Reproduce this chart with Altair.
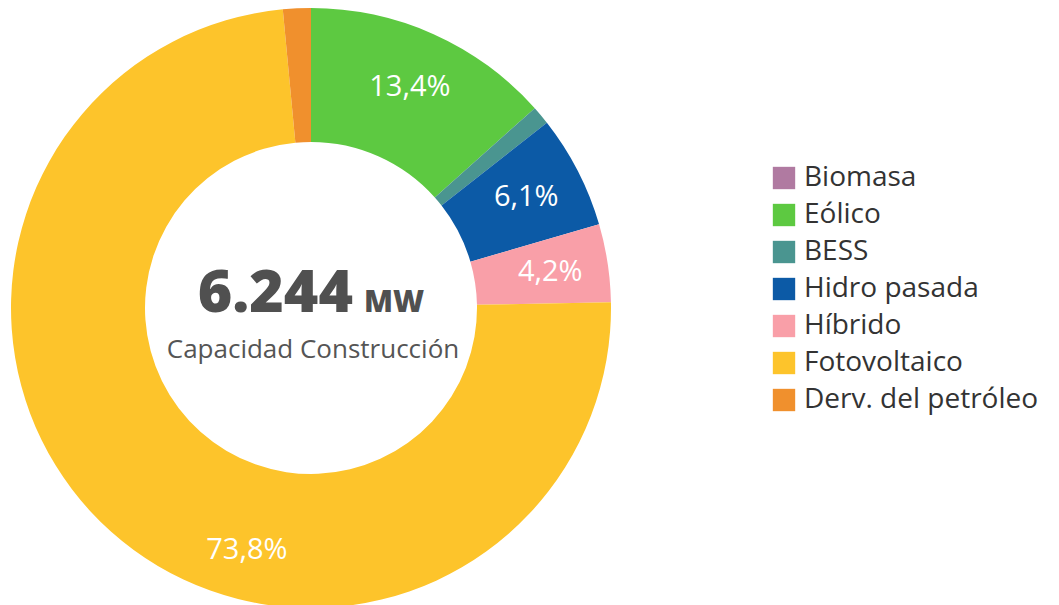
import altair as alt
import pandas as pd

categories = ["Biomasa", "Eólico", "BESS", "Hidro pasada", "Híbrido", "Fotovoltaico", "Derv. del petróleo"]
shares = [0.0, 13.4, 1.0, 6.1, 4.2, 73.8, 1.5]
labels = ["", "13,4%", "", "6,1%", "4,2%", "", ""]
big_label = ["", "", "", "", "", "73,8%", ""]
colors = ["#B07AA1", "#5DC941", "#4A9590", "#0C5AA6", "#F99FA8", "#FDC42B", "#F0902D"]
total_value = "6.244"
total_unit = "MW"
subtitle = "Capacidad Construcción"

df = pd.DataFrame({
    "cat": categories,
    "share": shares,
    "label": labels,
    "big": big_label,
    "idx": list(range(len(categories))),
})

FONT = "Open Sans"
CX, CY = 303, 300

base = alt.Chart(df).encode(
    theta=alt.Theta("share:Q", stack=True),
    order=alt.Order("idx:Q"),
    x=alt.value(CX),
    y=alt.value(CY),
)

arcs = base.mark_arc(innerRadius=166, outerRadius=300, stroke=None).encode(
    color=alt.Color(
        "cat:N",
        scale=alt.Scale(domain=categories, range=colors),
        sort=categories,
        legend=alt.Legend(
            title=None,
            orient="none",
            legendX=762,
            legendY=156,
            symbolType="square",
            symbolSize=500,
            symbolStrokeWidth=0,
            symbolOpacity=1,
            labelFont=FONT,
            labelFontSize=28,
            labelColor="#333333",
            labelOffset=6,
            rowPadding=9,
            labelLimit=400,
        ),
    )
)

pct = base.mark_text(radius=242, font=FONT, fontSize=29, color="white").encode(
    text="label:N"
)
pct_big = base.mark_text(radius=242, font=FONT, fontSize=29, color="white", dx=97, dy=61).encode(
    text="big:N"
)

center_df = pd.DataFrame({"v": [total_value], "u": [total_unit], "s": [subtitle]})
cbase = alt.Chart(center_df)
num = cbase.mark_text(font=FONT, fontSize=59, fontWeight=800, color="#505050", align="right", baseline="alphabetic").encode(
    text="v:N", x=alt.value(345), y=alt.value(304)
)
unit = cbase.mark_text(font=FONT, fontSize=30, fontWeight=800, color="#505050", align="left", baseline="alphabetic").encode(
    text="u:N", x=alt.value(356), y=alt.value(304)
)
sub = cbase.mark_text(font=FONT, fontSize=26, color="#555555", align="center", baseline="alphabetic").encode(
    text="s:N", x=alt.value(305), y=alt.value(350)
)

chart = alt.layer(arcs, pct, pct_big, num, unit, sub).properties(
    width=1040, height=585, padding=0, background="white"
).configure_view(stroke=None)

chart.save("out.html", embed_options={"renderer": "svg", "actions": False})
